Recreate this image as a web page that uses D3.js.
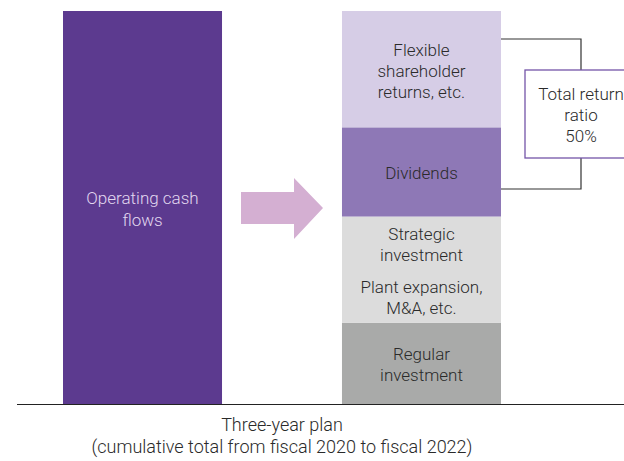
<!DOCTYPE html>
<head>
<style>
  body { margin: 0; background: #fff; }
  text { font-family: Roboto, "Liberation Sans", sans-serif; font-weight: 300; }
</style>
</head>
<body>
<div id="chart_container"></div>
<script src="https://cdn.jsdelivr.net/npm/d3@7"></script>
<script>
const width = 624
const height = 461

// bars
const bars = ['source', 'allocation']
const sourceValue = 100
const sourceLabel = ['Operating cash', 'flows']

// stacked allocation, bottom to top
const segNames = ['Regular investment', 'Strategic investment', 'Dividends', 'Flexible shareholder returns']
const segValues = [20.7, 27.0, 22.7, 29.6]
const segColors = ['#a9aaa9', '#dcdcdc', '#8e78b6', '#d6cde6']
// '' = small gap between line groups
const segLabels = [
  ['Regular', 'investment'],
  ['Strategic', 'investment', '', 'Plant expansion,', 'M&A, etc.'],
  ['Dividends'],
  ['Flexible', 'shareholder', 'returns, etc.']
]
const bracketLabel = ['Total return', 'ratio', '50%']
const axisLabel = ['Three-year plan', '(cumulative total from fiscal 2020 to fiscal 2022)']

const svg = d3.select('#chart_container')
  .append('svg')
  .attr('width', width)
  .attr('height', height)

const x = d3.scaleBand().domain(bars).range([63, 501]).paddingInner(0.43).paddingOuter(0)
const y = d3.scaleLinear().domain([0, 100]).range([404, 11])

// left bar
svg.append('rect')
  .attr('x', x('source'))
  .attr('y', y(sourceValue))
  .attr('width', x.bandwidth())
  .attr('height', y(0) - y(sourceValue))
  .style('fill', '#5c3a8f')

const cxL = x('source') + x.bandwidth() / 2
svg.append('text')
  .attr('text-anchor', 'middle')
  .style('font-size', '17px')
  .style('fill', '#e2d8f0')
  .selectAll('tspan')
  .data(sourceLabel)
  .enter()
  .append('tspan')
  .attr('x', cxL)
  .attr('y', (d, i) => 204 + i * 22)
  .text(d => d)

// stacked segments
let cum = 0
const stack = segValues.map((v, i) => {
  const s = { y0: cum, y1: cum + v, i: i }
  cum += v
  return s
})

svg.selectAll('rect.seg')
  .data(stack)
  .enter()
  .append('rect')
  .attr('class', 'seg')
  .attr('x', x('allocation'))
  .attr('y', d => y(d.y1))
  .attr('width', x.bandwidth())
  .attr('height', d => y(d.y0) - y(d.y1))
  .style('fill', d => segColors[d.i])

const cxR = x('allocation') + x.bandwidth() / 2
stack.forEach(s => {
  const lines = segLabels[s.i]
  const mid = (y(s.y0) + y(s.y1)) / 2
  const lh = 21
  const pos = []
  let p = 0
  lines.forEach((l, k) => {
    if (l === '') { p += 11; return }
    if (pos.length) p += lh
    pos.push({ t: l, p: p })
  })
  const first = mid - p / 2 + 1.5
  const t = svg.append('text')
    .attr('text-anchor', 'middle')
    .style('font-size', '17px')
    .style('fill', '#2a2a2a')
  pos.forEach(d => {
    t.append('tspan')
      .attr('x', cxR)
      .attr('y', first + d.p + 6)
      .text(d.t)
  })
})

// arrow
const arrow = d3.path()
arrow.moveTo(241, 192)
arrow.lineTo(294, 192)
arrow.lineTo(294, 178)
arrow.lineTo(323, 208)
arrow.lineTo(294, 239)
arrow.lineTo(294, 224)
arrow.lineTo(241, 224)
arrow.closePath()
svg.append('path').attr('d', arrow.toString()).style('fill', '#d4afd2')

// bracket for dividends + flexible
const right = x('allocation') + x.bandwidth()
const topY = 39
const botY = 189
const bx = 581
svg.append('path')
  .attr('d', `M${right},${topY}H${bx}V70M${bx},158V${botY}H${right}`)
  .style('fill', 'none')
  .style('stroke', '#333')
  .style('stroke-width', 1.2)

svg.append('rect')
  .attr('x', 525)
  .attr('y', 70)
  .attr('width', 120)
  .attr('height', 88)
  .style('fill', '#fff')
  .style('stroke', '#7455a8')
  .style('stroke-width', 1.3)

svg.append('text')
  .attr('text-anchor', 'middle')
  .style('font-size', '17px')
  .style('fill', '#2a2a2a')
  .selectAll('tspan')
  .data(bracketLabel)
  .enter()
  .append('tspan')
  .attr('x', bx)
  .attr('y', (d, i) => 100 + i * 21)
  .text(d => d)

// baseline
svg.append('line')
  .attr('x1', 17)
  .attr('x2', width)
  .attr('y1', y(0) + 0.5)
  .attr('y2', y(0) + 0.5)
  .style('stroke', '#222')
  .style('stroke-width', 1.2)

svg.append('text')
  .attr('text-anchor', 'middle')
  .style('font-size', '18px')
  .style('fill', '#2a2a2a')
  .selectAll('tspan')
  .data(axisLabel)
  .enter()
  .append('tspan')
  .attr('x', 282)
  .attr('y', (d, i) => 431 + i * 22)
  .text(d => d)
</script>
</body>
